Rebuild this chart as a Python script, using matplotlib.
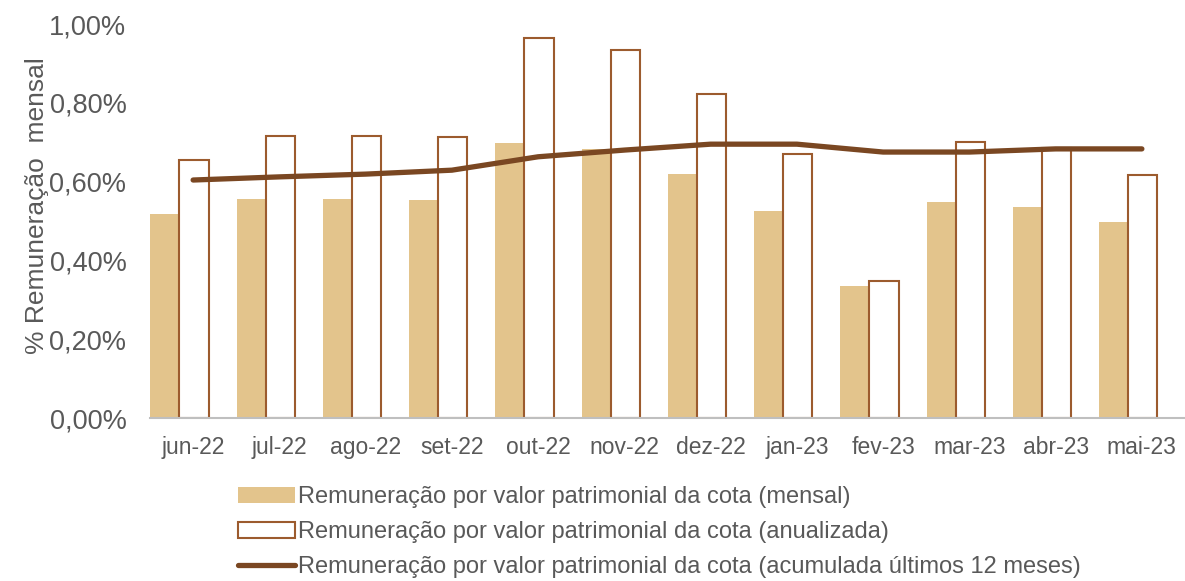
import matplotlib
matplotlib.use("Agg")
import matplotlib.pyplot as plt
import numpy as np

plt.rcParams.update({
    'font.family': ['Liberation Sans', 'DejaVu Sans'],
})

# ── Data ──────────────────────────────────────────────────────────
MONTHS = ["jun-22", "jul-22", "ago-22", "set-22", "out-22", "nov-22",
          "dez-22", "jan-23", "fev-23", "mar-23", "abr-23", "mai-23"]

MENSAL     = [0.518, 0.556, 0.556, 0.553, 0.698, 0.683,
              0.619, 0.525, 0.335, 0.548, 0.536, 0.497]
ANUALIZADA = [0.655, 0.716, 0.716, 0.713, 0.964, 0.934,
              0.822, 0.670, 0.348, 0.701, 0.685, 0.617]
ACUM_12M   = [0.604, 0.612, 0.619, 0.629, 0.663, 0.680,
              0.695, 0.695, 0.675, 0.675, 0.683, 0.683]

YTICKS = [0.0, 0.2, 0.4, 0.6, 0.8, 1.0]

LABELS = [
    "Remuneração por valor patrimonial da cota (mensal)",
    "Remuneração por valor patrimonial da cota (anualizada)",
    "Remuneração por valor patrimonial da cota (acumulada últimos 12 meses)",
]

C_MENSAL = "#E3C48C"
C_ANUAL = "#9C5B2E"
C_LINE = "#7A4722"
C_TEXT = "#595959"

# ── Figure ────────────────────────────────────────────────────────
fig = plt.figure(figsize=(11.85, 5.81), dpi=100)
ax = fig.add_axes([150 / 1185, 163 / 581, 1035 / 1185, 394 / 581])

x = np.arange(len(MONTHS))
w = 0.34

b1 = ax.bar(x - 0.325, MENSAL, width=w, color=C_MENSAL, linewidth=0, zorder=2)
b2 = ax.bar(x + 0.01, ANUALIZADA, width=w, facecolor="white",
            edgecolor=C_ANUAL, linewidth=1.5, zorder=2)
l1, = ax.plot(x, ACUM_12M, color=C_LINE, linewidth=3.8,
              solid_capstyle="round", solid_joinstyle="round", zorder=3)

ax.set_xlim(-0.5, 11.5)
ax.set_ylim(0, 1.0)
ax.set_yticks(YTICKS)
ax.set_yticklabels([f"{v:.2f}%".replace(".", ",") for v in YTICKS])
ax.set_xticks(x)
ax.set_xticklabels(MONTHS)

for s in ["top", "right", "left"]:
    ax.spines[s].set_visible(False)
ax.spines["bottom"].set_color("#BFBFBF")
ax.spines["bottom"].set_linewidth(1.5)

ax.tick_params(axis="y", length=0, labelsize=19.5, colors=C_TEXT, pad=17)
ax.tick_params(axis="x", length=0, labelsize=16.5, colors=C_TEXT, pad=13)

ax.set_ylabel("% Remuneração  mensal", fontsize=19, color=C_TEXT)
ax.yaxis.set_label_coords(-0.098, 0.54)

fig.legend([b1, b2, l1], LABELS, loc="upper left",
           bbox_to_anchor=(238 / 1185, 1 - 486 / 581),
           frameon=False, fontsize=17, labelcolor=C_TEXT,
           handlelength=2.4, handleheight=0.65, handletextpad=0.15,
           labelspacing=0.55, borderaxespad=0, borderpad=0)

fig.savefig("out.png", dpi=100)
